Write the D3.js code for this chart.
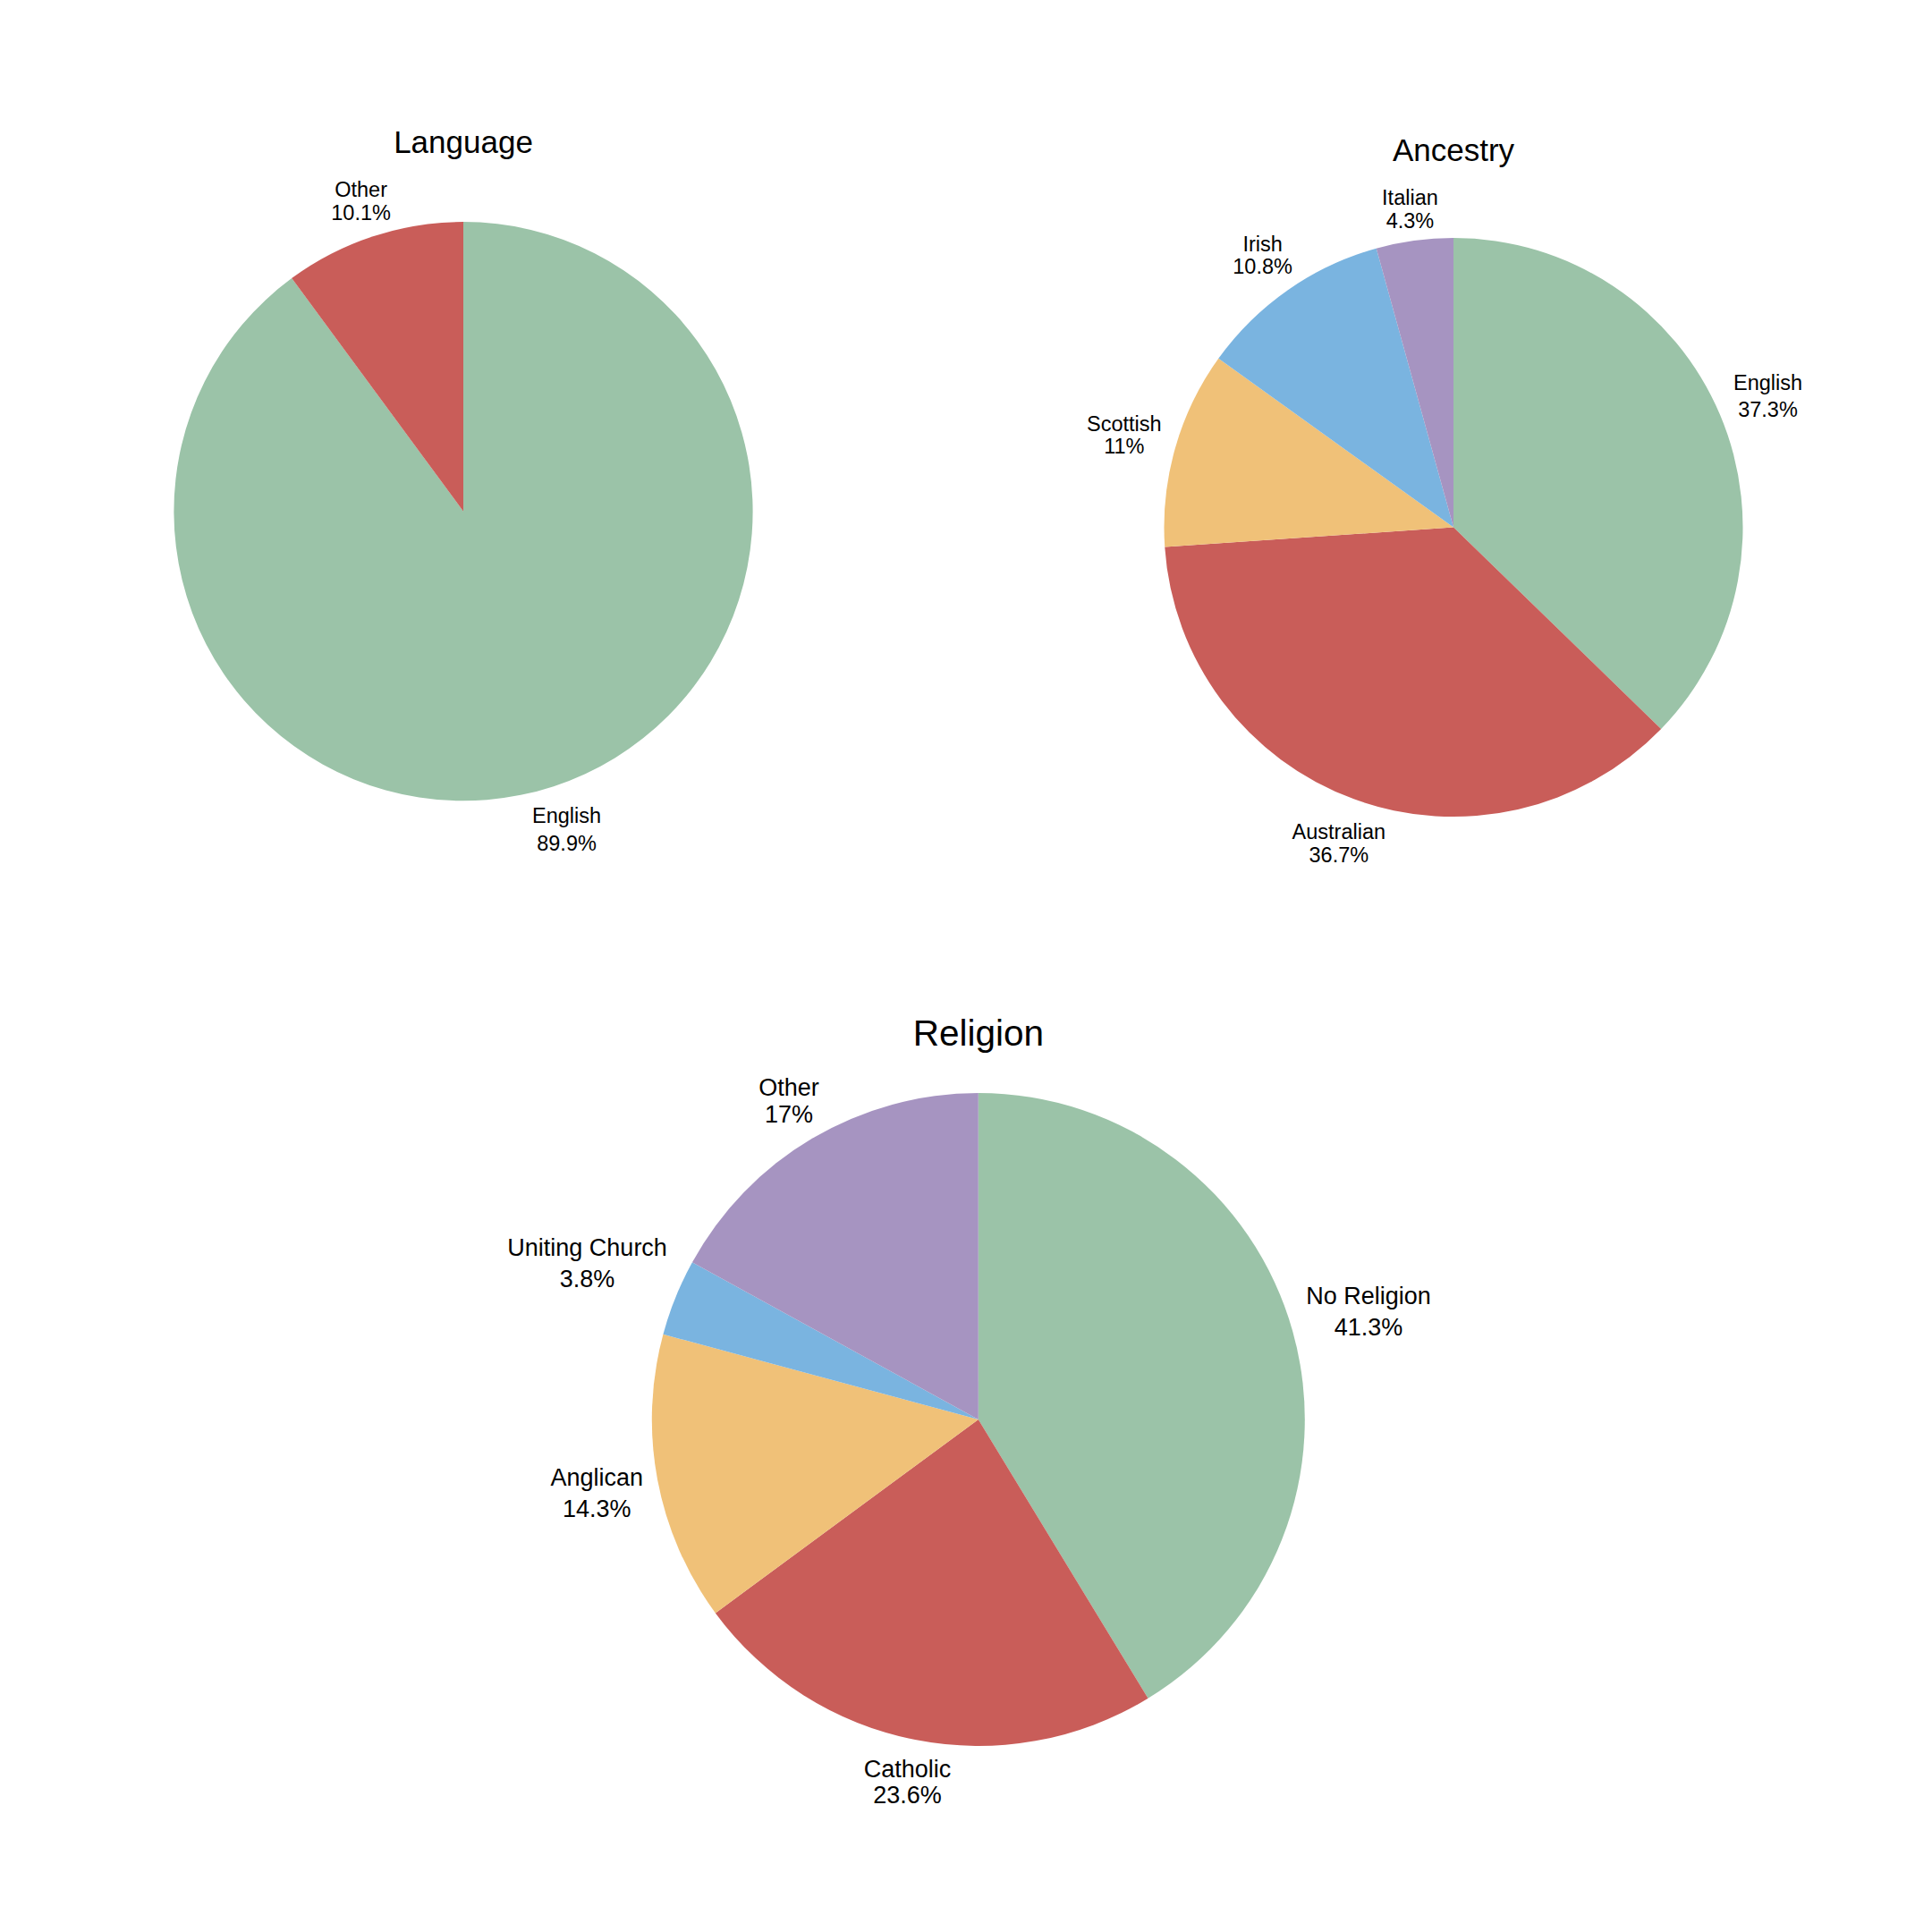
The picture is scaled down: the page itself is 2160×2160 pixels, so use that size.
<!DOCTYPE html>
<html>
<head>
<meta charset="utf-8">
<script src="https://cdn.jsdelivr.net/npm/d3@7"></script>
<style>
  html, body { margin: 0; padding: 0; background: #ffffff; }
  svg { display: block; font-family: "Liberation Sans", Arial, sans-serif; }
</style>
</head>
<body>
<svg id="chart" width="2160" height="2160"></svg>
<script>
// ---------------- data ----------------
const languageLabels = ["English", "Other"];
const languageValues = [89.9, 10.1];

const ancestryLabels = ["English", "Australian", "Scottish", "Irish", "Italian"];
const ancestryValues = [37.3, 36.7, 11, 10.8, 4.3];

const religionLabels = ["No Religion", "Catholic", "Anglican", "Uniting Church", "Other"];
const religionValues = [41.3, 23.6, 14.3, 3.8, 17];

const sliceColors = ["#9bc3a8", "#c95d59", "#f0c178", "#7ab4e0", "#a694c1"];
const languageColors = ["#9bc3a8", "#c95d59"];

const chartTitles = ["Language", "Ancestry", "Religion"];

// ---------------- layout ----------------
const panels = [
  { title: chartTitles[0], labels: languageLabels, values: languageValues, colors: languageColors,
    cx: 518, cy: 571.7, r: 323.6, labelFs: 23.5, titleFs: 35 },
  { title: chartTitles[1], labels: ancestryLabels, values: ancestryValues, colors: sliceColors,
    cx: 1625, cy: 589.6, r: 323.5, labelFs: 23.5, titleFs: 35 },
  { title: chartTitles[2], labels: religionLabels, values: religionValues, colors: sliceColors,
    cx: 1093.8, cy: 1587, r: 365, labelFs: 27, titleFs: 40.5 }
];

const svg = d3.select("#chart");

panels.forEach(p => {
  const data = p.labels.map((l, i) => ({ label: l, value: p.values[i], color: p.colors[i] }));
  const pie = d3.pie().sort(null).value(d => d.value);
  const arcs = pie(data);
  const arc = d3.arc().innerRadius(0).outerRadius(p.r);

  const g = svg.append("g").attr("transform", `translate(${p.cx},${p.cy})`);

  g.selectAll("path.slice")
    .data(arcs)
    .join("path")
    .attr("class", "slice")
    .attr("d", arc)
    .attr("fill", d => d.data.color);

  const fs = p.labelFs;
  const capH = 0.716 * fs;
  const R = p.r + 13.5;
  let minTop = Infinity;

  arcs.forEach(a => {
    const mid = (a.startAngle + a.endAngle) / 2;
    const ux = Math.sin(mid), uy = -Math.cos(mid);
    const line1 = a.data.label;
    const line2 = `${a.data.value}%`;
    const gap = 1.087 * fs + (/[gjpqy]/.test(line1) ? 0.215 * fs : 0);

    const t = g.append("text")
      .attr("text-anchor", "middle")
      .attr("font-size", fs)
      .attr("fill", "#000");
    const t1 = t.append("tspan").attr("x", 0).text(line1);
    const t2 = t.append("tspan").attr("x", 0).text(line2);
    const w = Math.max(t1.node().getComputedTextLength(), t2.node().getComputedTextLength());
    const h = capH + gap;

    const b = Math.abs(ux) * w / 2 + Math.abs(uy) * h / 2;
    const D = b + Math.sqrt(Math.max(0, b * b - (w * w + h * h) / 4 + R * R));
    const x = D * ux, y = D * uy;
    const base1 = y - h / 2 + capH + 1.5 + Math.max(0, uy) * 2;
    t1.attr("x", x).attr("y", base1);
    t2.attr("x", x).attr("y", base1 + gap);
    minTop = Math.min(minTop, y - h / 2);
  });

  g.append("text")
    .attr("text-anchor", "middle")
    .attr("x", 0)
    .attr("y", Math.min(minTop, -p.r) - 0.885 * p.titleFs)
    .attr("font-size", p.titleFs)
    .attr("fill", "#000")
    .text(p.title);
});
</script>
</body>
</html>
